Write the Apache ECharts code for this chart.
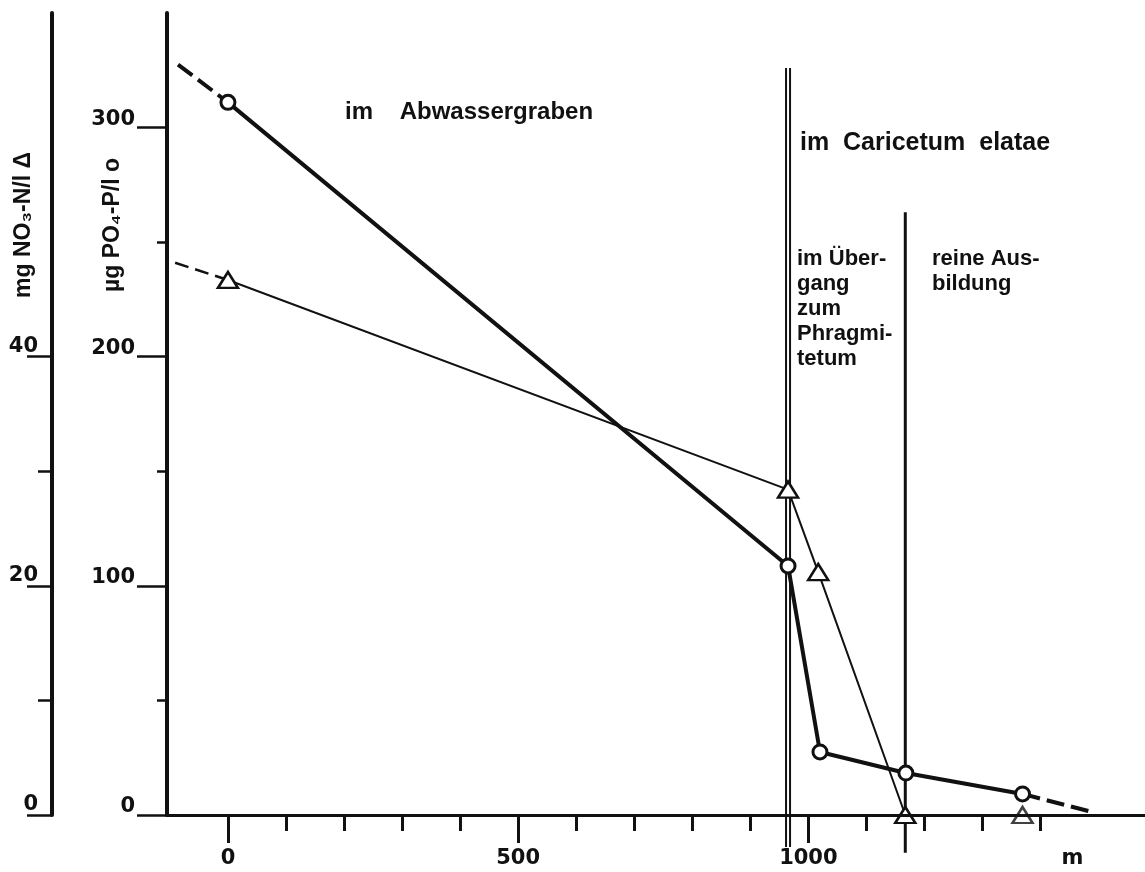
<!DOCTYPE html>
<html>
<head>
<meta charset="utf-8">
<script src="https://cdn.jsdelivr.net/npm/echarts@6/dist/echarts.min.js"></script>
<style>
  html, body { margin: 0; padding: 0; background: #fff; }
  #chart { width: 1145px; height: 872px; }
</style>
</head>
<body>
<div id="chart"></div>
<script>
// PO4-P (circles, inner axis, µg/l)
const po4X = [0, 965, 1020, 1168, 1369];
const po4Y = [311, 108.7, 27.5, 18.3, 9.2];
const po4LeadX = [-86, 0];
const po4LeadY = [327.5, 311];
const po4TailX = [1369, 1483];
const po4TailY = [9.2, 1.7];

// NO3-N (triangles, outer axis, mg/l)
const no3X = [0, 965, 1017, 1167];
const no3Y = [46.7, 28.4, 21.2, 0];
const no3LeadX = [-91, 0];
const no3LeadY = [48.2, 46.7];
const no3LoneX = [1369];
const no3LoneY = [0];

// zone borders (x in m, y in µg/l units)
const borderX = [965, 1167];
const borderTop = [326, 263];
const borderBottom = [-14, -16.5];

// ticks
const xMajor = [0, 500, 1000];
const xMinor = [100, 200, 300, 400, 600, 700, 800, 900, 1100, 1200, 1300, 1400];
const xUnitAt = 1455;
const po4Major = [0, 100, 200, 300];
const po4Minor = [50, 150, 250];
const no3Major = [0, 20, 40];
const no3Minor = [10, 30];

const ink = '#111';
const zip = (xs, ys) => xs.map((x, i) => [x, ys[i]]);

const chart = echarts.init(document.getElementById('chart'));

const numFont = { fontFamily: 'DejaVu Sans', fontWeight: 'bold', fontSize: 21, color: ink };

const option = {
  animation: false,
  backgroundColor: '#fff',
  grid: { left: 167, right: 0, top: 13, bottom: 57, outerBoundsMode: 'none' },
  xAxis: [
    {
      type: 'value', min: -105, max: 1580, z: 5,
      splitLine: { show: false },
      axisLine: { show: true, onZero: false, lineStyle: { color: ink, width: 3 } },
      axisTick: { show: true, customValues: xMajor, length: 28, lineStyle: { color: ink, width: 3 } },
      axisLabel: {
        ...numFont, margin: 33, customValues: xMajor.concat([xUnitAt]),
        formatter: v => (v === xUnitAt ? 'm' : String(v))
      }
    },
    {
      type: 'value', min: -105, max: 1580, position: 'bottom', z: 5,
      splitLine: { show: false },
      axisLine: { show: false, onZero: false },
      axisTick: { show: true, customValues: xMinor, length: 16, lineStyle: { color: ink, width: 3 } },
      axisLabel: { show: false }
    }
  ],
  yAxis: [
    {
      type: 'value', min: 0, max: 350, position: 'left', offset: 0, z: 5,
      splitLine: { show: false },
      axisLine: { show: true, onZero: false, lineStyle: { color: ink, width: 4 } },
      axisTick: { show: true, customValues: po4Major, length: 30, lineStyle: { color: ink, width: 2.5 } },
      axisLabel: { ...numFont, margin: 32, customValues: po4Major, verticalAlign: 'bottom', lineHeight: 16 }
    },
    {
      type: 'value', min: 0, max: 350, position: 'left', offset: 0,
      splitLine: { show: false },
      axisLine: { show: false, onZero: false },
      axisTick: { show: true, customValues: po4Minor, length: 10, lineStyle: { color: ink, width: 2.5 } },
      axisLabel: { show: false }
    },
    {
      type: 'value', min: 0, max: 70, position: 'left', offset: 115,
      splitLine: { show: false },
      axisLine: { show: true, onZero: false, lineStyle: { color: ink, width: 4 } },
      axisTick: { show: true, customValues: no3Major, length: 25, lineStyle: { color: ink, width: 2.5 } },
      axisLabel: { ...numFont, margin: 14, customValues: no3Major, verticalAlign: 'bottom', lineHeight: 20 }
    },
    {
      type: 'value', min: 0, max: 70, position: 'left', offset: 115,
      splitLine: { show: false },
      axisLine: { show: false, onZero: false },
      axisTick: { show: true, customValues: no3Minor, length: 14, lineStyle: { color: ink, width: 2.5 } },
      axisLabel: { show: false }
    }
  ],
  graphic: [
    {
      type: 'text', x: 24, y: 225, rotation: Math.PI / 2,
      style: { text: 'mg NO₃-N/l Δ', font: 'bold 23px "Liberation Sans"', fill: ink, align: 'center', verticalAlign: 'middle' }
    },
    {
      type: 'text', x: 113, y: 225, rotation: Math.PI / 2,
      style: { text: 'µg PO₄-P/l o', font: 'bold 23px "Liberation Sans"', fill: ink, align: 'center', verticalAlign: 'middle' }
    },
    {
      type: 'text', x: 345, y: 112,
      style: { text: 'im    Abwassergraben', font: 'bold 24px "Liberation Sans"', fill: ink, verticalAlign: 'middle' }
    },
    {
      type: 'text', x: 800, y: 143,
      style: { text: 'im  Caricetum  elatae', font: 'bold 25px "Liberation Sans"', fill: ink, verticalAlign: 'middle' }
    },
    {
      type: 'text', x: 797, y: 246,
      style: {
        text: 'im Über-\ngang\nzum\nPhragmi-\ntetum', font: 'bold 22px "Liberation Sans"',
        lineHeight: 25, fill: ink, verticalAlign: 'top'
      }
    },
    {
      type: 'text', x: 932, y: 246,
      style: {
        text: 'reine Aus-\nbildung', font: 'bold 22px "Liberation Sans"',
        lineHeight: 25, fill: ink, verticalAlign: 'top'
      }
    }
  ],
  series: [
    // double border line at the ditch edge
    {
      type: 'line', clip: false, symbol: 'none', z: 1,
      data: [[borderX[0], borderTop[0]], [borderX[0], borderBottom[0]]],
      lineStyle: { color: ink, width: 6 }
    },
    {
      type: 'line', clip: false, symbol: 'none', z: 1,
      data: [[borderX[0], borderTop[0]], [borderX[0], borderBottom[0]]],
      lineStyle: { color: '#fff', width: 2 }
    },
    {
      type: 'line', clip: false, symbol: 'none', z: 1,
      data: [[borderX[1], borderTop[1]], [borderX[1], borderBottom[1]]],
      lineStyle: { color: ink, width: 3 }
    },
    // NO3
    {
      type: 'line', clip: false, symbol: 'none', yAxisIndex: 2, z: 3,
      data: zip(no3LeadX, no3LeadY),
      lineStyle: { color: ink, width: 2.5, type: [14, 7] }
    },
    {
      type: 'line', clip: false, yAxisIndex: 2, z: 4,
      data: zip(no3X, no3Y),
      symbol: 'triangle', symbolSize: [20, 16],
      lineStyle: { color: ink, width: 2 },
      itemStyle: { color: '#fff', borderColor: ink, borderWidth: 2.5 }
    },
    {
      type: 'scatter', yAxisIndex: 2, z: 4, clip: false,
      data: zip(no3LoneX, no3LoneY),
      symbol: 'triangle', symbolSize: [20, 16],
      itemStyle: { color: '#fff', borderColor: ink, borderWidth: 2.5 }
    },
    // PO4
    {
      type: 'line', clip: false, symbol: 'none', z: 3,
      data: zip(po4LeadX, po4LeadY),
      lineStyle: { color: ink, width: 4, type: [18, 7] }
    },
    {
      type: 'line', clip: false, symbol: 'none', z: 3,
      data: zip(po4TailX, po4TailY),
      lineStyle: { color: ink, width: 4, type: [18, 7] }
    },
    {
      type: 'line', clip: false, z: 4,
      data: zip(po4X, po4Y),
      symbol: 'circle', symbolSize: 14,
      lineStyle: { color: ink, width: 4 },
      itemStyle: { color: '#fff', borderColor: ink, borderWidth: 3 }
    }
  ]
};

chart.setOption(option);
</script>
</body>
</html>
